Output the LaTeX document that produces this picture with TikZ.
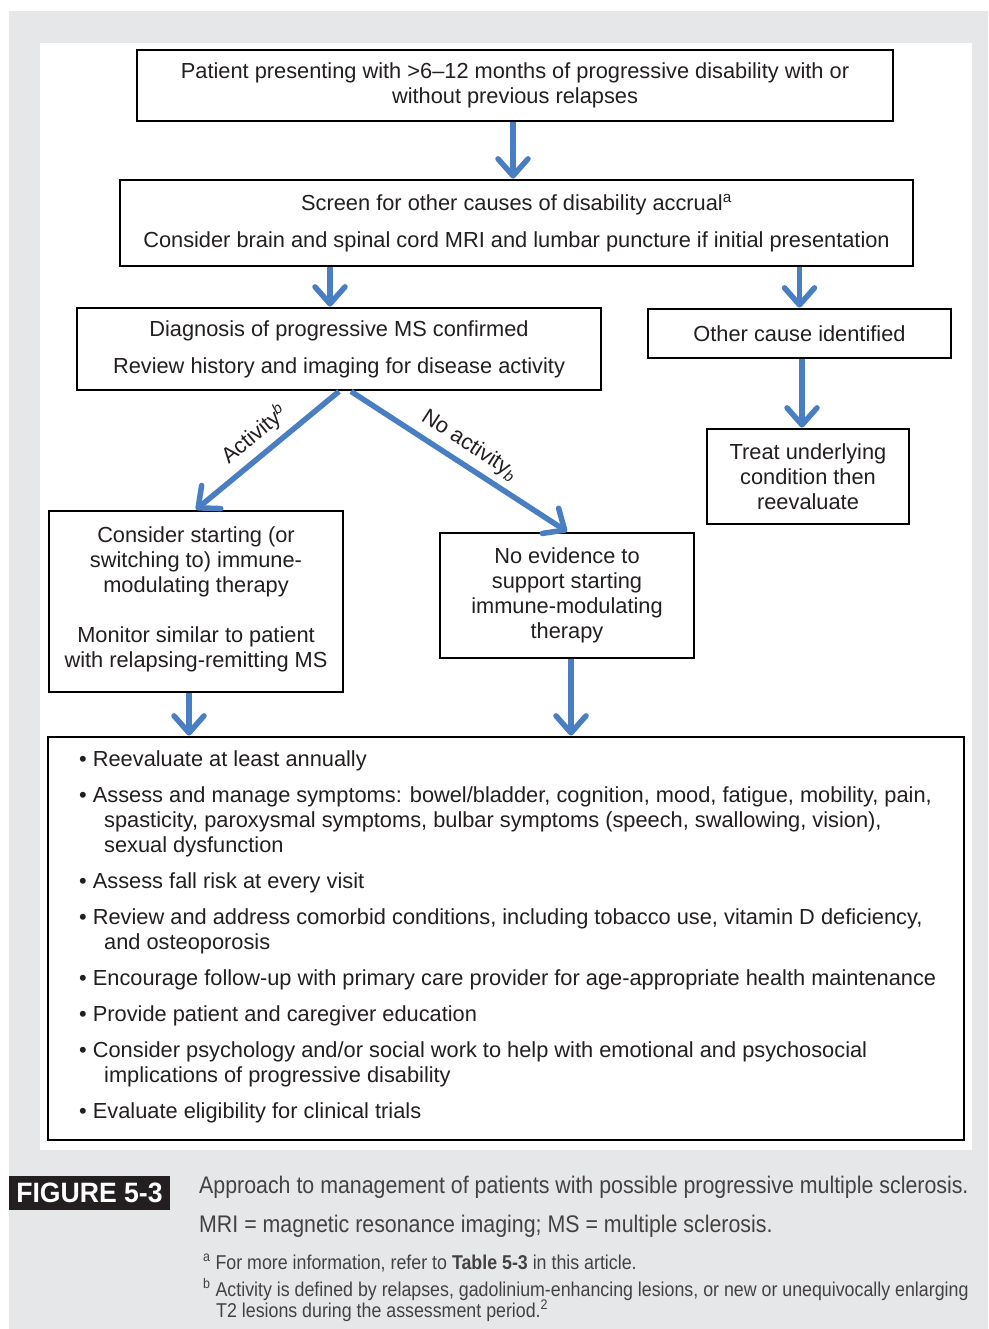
\documentclass[tikz,border=0pt]{standalone}
\usepackage{fontspec}
\setmainfont{Liberation Sans}
\newfontfamily\capfont[FakeStretch=0.89]{Liberation Sans}
\newfontfamily\labelfont[FakeStretch=0.95]{Liberation Sans}
\usetikzlibrary{
  arrows.meta,
  positioning,
  calc
}
\definecolor{pagegrey}{HTML}{E6E7E8}
\definecolor{flowblue}{HTML}{4A7EC2}
\definecolor{labelblack}{HTML}{231F20}

\begin{document}
\begin{tikzpicture}[x=1pt, y=-1pt,
    box/.style = {draw, line width=2.8pt, inner sep=0pt, align=center,
      text=labelblack, font=\fontsize{21.8}{25}\selectfont},
    flow/.style = {draw=flowblue, line width=5.5pt,
      -{Straight Barb[round, length=17pt, width=30pt]}},
    flowlabel/.style = {sloped, above=3pt, pos=0.5, text=labelblack,
      font=\fontsize{21.8}{24}\selectfont},
    caption/.style = {anchor=base west, inner sep=0pt, text=labelblack!85,
      font=\capfont\fontsize{24}{26}\selectfont},
    note/.style = {anchor=base west, inner sep=0pt, text=labelblack!85,
      font=\capfont\fontsize{20}{22}\selectfont}]
    \useasboundingbox (0,0) rectangle (988,1329);
    \fill[pagegrey] (9,11) rectangle (988,1329);
    \fill[white] (40,43) rectangle (972,1150);

    % flow chart boxes
    \node[box, minimum width=756pt, minimum height=71pt] (present) at (515,85.5)
      {Patient presenting with >6--12 months of progressive disability with or\\
       without previous relapses};
    \node[box, minimum width=793pt, minimum height=86pt] (screen) at (516.5,223)
      {Screen for other causes of disability accrual\textsuperscript{a}\\[12pt]
       Consider brain and spinal cord MRI and lumbar puncture if initial presentation};
    \node[box, minimum width=524pt, minimum height=82pt] (diag) at (339,349)
      {Diagnosis of progressive MS confirmed\\[12pt]
       Review history and imaging for disease activity};
    \node[box, minimum width=303pt, minimum height=49pt] (other) at (799.5,333.5)
      {Other cause identified};
    \node[box, minimum width=202pt, minimum height=95pt] (treat) at (808,476.5)
      {Treat underlying\\ condition then\\ reevaluate};
    \node[box, minimum width=294pt, minimum height=181pt] (consider) at (196,601.5)
      {Consider starting (or\\ switching to) immune-\\ modulating therapy\\[25pt]
       Monitor similar to patient\\ with relapsing-remitting MS\\[-17pt]};
    \node[box, minimum width=254pt, minimum height=125pt] (noevid) at (567,595.5)
      {No evidence to\\ support starting\\ immune-modulating\\ therapy};
    \node[box, minimum width=916pt, minimum height=403pt] (manage) at (506,938.5) {};
    \node[anchor=north west, inner sep=0pt, align=left, text=labelblack,
      font=\fontsize{21.8}{25}\selectfont] (items) at (79,750)
      {\textbullet\ Reevaluate at least annually\\[11pt]
       \textbullet\ Assess and manage symptoms: bowel/bladder, cognition, mood, fatigue, mobility, pain,\\
       \hspace*{25pt}spasticity, paroxysmal symptoms, bulbar symptoms (speech, swallowing, vision),\\
       \hspace*{25pt}sexual dysfunction\\[11pt]
       \textbullet\ Assess fall risk at every visit\\[11pt]
       \textbullet\ Review and address comorbid conditions, including tobacco use, vitamin D deficiency,\\
       \hspace*{25pt}and osteoporosis\\[11pt]
       \textbullet\ Encourage follow-up with primary care provider for age-appropriate health maintenance\\[11pt]
       \textbullet\ Provide patient and caregiver education\\[11pt]
       \textbullet\ Consider psychology and/or social work to help with emotional and psychosocial\\
       \hspace*{25pt}implications of progressive disability\\[11pt]
       \textbullet\ Evaluate eligibility for clinical trials};

    % connectors
    \draw[flow] (present.south -| 513,0) -- (screen.north -| 513,0);
    \draw[flow] (screen.south -| 330,0) -- (diag.north -| 330,0);
    \draw[flow] (screen.south -| other.north) -- (other.north);
    \draw[flow] (other.south -| 802,0) -- (treat.north -| 802,0);
    \draw[flow] (diag.south) -- node[flowlabel]
      {Activity\textsuperscript{\itshape b}} (consider.north);
    \draw[flow] ($(diag.south)+(12,0)$) -- node[flowlabel]
      {No activity\textsubscript{\itshape b}} (noevid.north);
    \draw[flow] (consider.south -| 189,0) -- (manage.north -| 189,0);
    \draw[flow] (noevid.south -| 571,0) -- (manage.north -| 571,0);

    % caption
    \node[fill=labelblack, text=white, inner sep=0pt, minimum width=161pt, minimum height=34pt,
      font=\labelfont\bfseries\fontsize{28}{28}\selectfont] (figlabel) at (89.5,1193) {FIGURE 5-3};
    \node[caption] (cap1) at (199,1193)
      {Approach to management of patients with possible progressive multiple sclerosis.};
    \node[caption] (cap2) at (199,1232)
      {MRI = magnetic resonance imaging; MS = multiple sclerosis.};
    \node[note] (note1) at (203,1269)
      {\textsuperscript{a} For more information, refer to \textbf{Table 5-3} in this article.};
    \node[note] (note2) at (203,1296)
      {\textsuperscript{b} Activity is defined by relapses, gadolinium-enhancing lesions, or new or unequivocally enlarging};
    \node[note] (note3) at (216,1317)
      {T2 lesions during the assessment period.\textsuperscript{2}};
  \end{tikzpicture}
\end{document}
